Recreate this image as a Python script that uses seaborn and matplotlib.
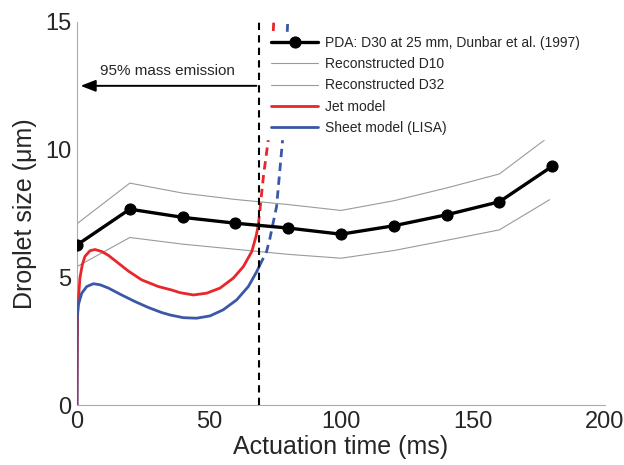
import numpy as np
import pandas as pd
import matplotlib
matplotlib.use("Agg")
import matplotlib.pyplot as plt
import seaborn as sns

# measured PDA data (Dunbar et al. 1997)
pda_t = [0, 20, 40, 60, 80, 100, 120, 140, 160, 180]
pda_d = [6.27, 7.67, 7.35, 7.12, 6.93, 6.69, 7.02, 7.45, 7.96, 9.35]

# reconstructed bounds
d32_t = [0, 20, 40, 60, 80, 100, 120, 140, 160, 178]
d32_d = [7.1, 8.69, 8.3, 8.05, 7.85, 7.62, 8.0, 8.5, 9.05, 10.45]
d10_t = [0, 20, 40, 60, 80, 100, 120, 140, 160, 179]
d10_d = [5.42, 6.56, 6.3, 6.1, 5.9, 5.75, 6.05, 6.45, 6.86, 8.04]

# jet model (solid part, then beyond 95% emission)
jet_t = [0, 0.25, 1.1, 2.0, 3.0, 4.9, 6.8, 9.4, 11.9, 15.6, 19.4, 24.5, 30.8, 36.0,
         39.0, 44.1, 49.1, 54.2, 59.2, 63.0, 66.2, 67.8, 68.7]
jet_d = [0, 3.66, 4.97, 5.49, 5.82, 6.04, 6.09, 6.01, 5.86, 5.56, 5.25, 4.9, 4.64, 4.5,
         4.40, 4.31, 4.38, 4.58, 4.97, 5.42, 6.01, 6.6, 7.06]
jet_ext_t = [68.7, 69.3, 70.6, 72.5, 74.5, 75.0]
jet_ext_d = [7.06, 7.65, 8.95, 10.42, 15.0, 16.2]

# sheet model (LISA)
lisa_t = [0, 0.05, 0.5, 1.8, 3.7, 6.2, 8.7, 11.9, 16.9, 22.0, 27.0, 32.1, 35.5,
          40.3, 45.3, 50.4, 55.4, 60.5, 64.9, 68.1, 69.2]
lisa_d = [0, 3.33, 3.92, 4.38, 4.64, 4.75, 4.71, 4.58, 4.31, 4.05, 3.82, 3.62, 3.52,
          3.42, 3.40, 3.49, 3.73, 4.12, 4.64, 5.23, 5.47]
lisa_ext_t = [69.2, 71.8, 73.1, 75.6, 77.9, 79.8, 80.3]
lisa_ext_d = [5.47, 6.01, 6.54, 7.78, 10.42, 15.0, 16.2]

emission_t = 69

sns.set_style("white")
plt.rcParams["font.family"] = ["Liberation Sans", "DejaVu Sans"]

red = "#e8262b"
blue = "#3a57a8"
grey = "#9a9a9a"

fig = plt.figure(figsize=(6.24, 4.65), dpi=100)
ax = fig.add_axes([0.1234, 0.129, 0.8462, 0.8237])

sns.lineplot(x=d32_t, y=d32_d, ax=ax, color=grey, lw=0.8, sort=False, label="Reconstructed D32", zorder=2)
sns.lineplot(x=d10_t, y=d10_d, ax=ax, color=grey, lw=0.8, sort=False, label="Reconstructed D10", zorder=2)
sns.lineplot(x=jet_t, y=jet_d, ax=ax, color=red, lw=2, sort=False, label="Jet model", zorder=3)
sns.lineplot(x=jet_ext_t, y=jet_ext_d, ax=ax, color=red, lw=2, sort=False, zorder=3)
sns.lineplot(x=lisa_t, y=lisa_d, ax=ax, color=blue, lw=2, sort=False, label="Sheet model (LISA)", zorder=3)
sns.lineplot(x=lisa_ext_t, y=lisa_ext_d, ax=ax, color=blue, lw=2, sort=False, zorder=3)
sns.lineplot(x=pda_t, y=pda_d, ax=ax, color="black", lw=2.4, marker="o", markersize=8,
             markeredgecolor="black", sort=False, label="PDA: D30 at 25 mm, Dunbar et al. (1997)", zorder=4)

lines = ax.get_lines()
lines[3].set_linestyle((0, (3, 2)))
lines[5].set_linestyle((0, (3, 2)))

ax.axvline(emission_t, color="black", lw=1.5, ls=(0, (3.5, 2.5)), zorder=3)
ax.annotate("", xy=(0.3, 12.5), xytext=(emission_t, 12.5),
            arrowprops=dict(arrowstyle="-|>,head_length=0.9,head_width=0.35", color="black", lw=1.4))
ax.text(34.3, 13.1, "95% mass emission", ha="center", va="center", fontsize=11)

ax.set_xlim(0, 200)
ax.set_ylim(0, 15)
ax.set_xticks([0, 50, 100, 150, 200])
ax.set_yticks([0, 5, 10, 15])
ax.tick_params(axis="both", labelsize=17, direction="in", length=3, width=0.8, color=grey, pad=4)
ax.set_xlabel("Actuation time (ms)", fontsize=18, labelpad=2)
ax.set_ylabel("Droplet size (\u03bcm)", fontsize=18, labelpad=6)

for side in ["top", "right"]:
    ax.spines[side].set_visible(False)
for side in ["left", "bottom"]:
    ax.spines[side].set_color("#aaaaaa")
    ax.spines[side].set_linewidth(0.8)

handles, labels = ax.get_legend_handles_labels()
order = [4, 1, 0, 2, 3]
handles = [handles[i] for i in order]
labels = ["PDA: D30 at 25 mm, Dunbar et al. (1997)", "Reconstructed D10", "Reconstructed D32",
          "Jet model", "Sheet model (LISA)"]
leg = ax.legend(handles, labels, loc="upper left", bbox_to_anchor=(0.36, 0.975), fontsize=10,
                frameon=True, framealpha=1, edgecolor="white", facecolor="white", fancybox=False,
                handlelength=3.4, handletextpad=0.45, labelspacing=0.53, borderpad=0.3, borderaxespad=0)
leg.set_zorder(5)

fig.savefig("out.png", dpi=100)
